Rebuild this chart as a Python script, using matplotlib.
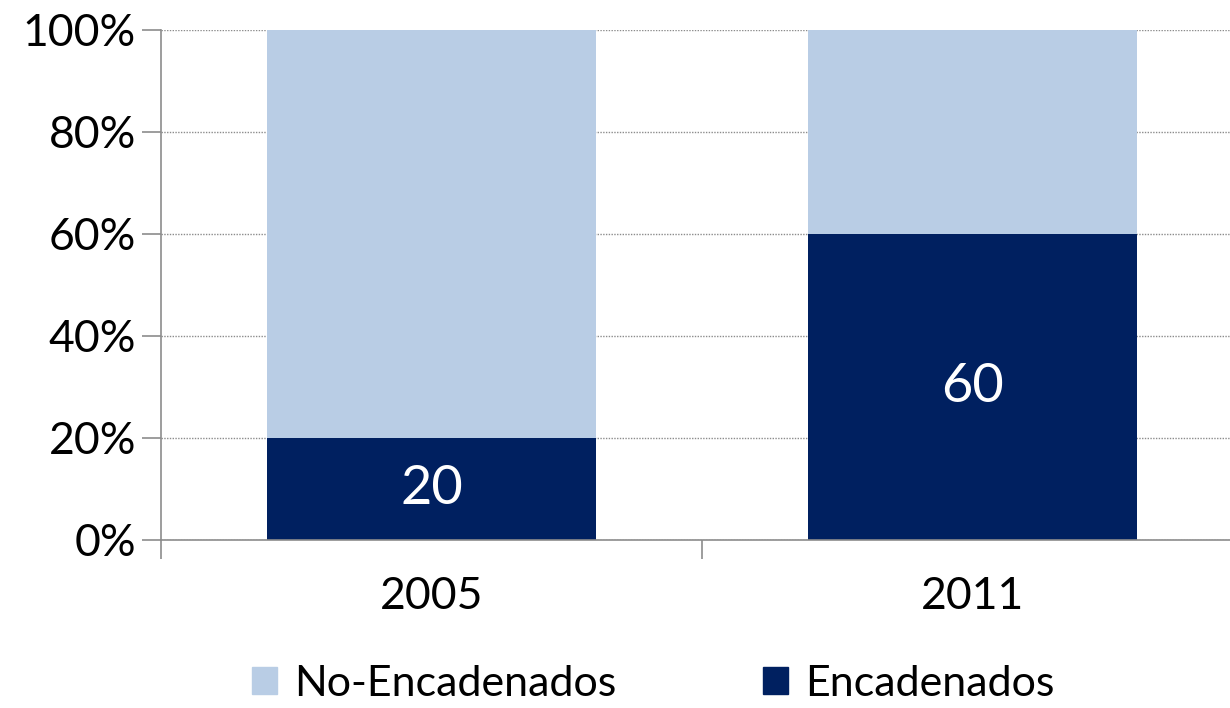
import matplotlib
matplotlib.use("Agg")
import matplotlib.pyplot as plt
from matplotlib.patches import Patch

# Datos
years = ["2005", "2011"]
encadenados = [20, 60]
no_encadenados = [80, 40]
yticks = [0, 20, 40, 60, 80, 100]

light = "#B9CDE5"
dark = "#002060"

plt.rcParams["font.family"] = ["Lato", "DejaVu Sans"]

fig = plt.figure(figsize=(12.3, 7.08), dpi=100)
ax = fig.add_axes([161 / 1230, 1 - 540 / 708, 1082 / 1230, 510 / 708])

x = range(len(years))
ax.bar(x, encadenados, width=0.608, color=dark, zorder=2)
ax.bar(x, no_encadenados, width=0.608, bottom=encadenados, color=light, zorder=2)

for i, v in enumerate(encadenados):
    ax.text(i, v / 2, str(v), color="white", ha="center", va="center",
            fontsize=39, zorder=3)

ax.set_xlim(-0.5, 1.5)
ax.set_ylim(0, 100)
ax.set_yticks(yticks)
ax.set_yticklabels([f"{t}%" for t in yticks], fontsize=32)
ax.yaxis.grid(True, color="#8c8c8c", linestyle=(0, (1, 1)), linewidth=1, zorder=0)

# ticks del eje x en los limites de categoria
ax.set_xticks([-0.5, 0.5, 1.5])
ax.set_xticklabels([])
ax.set_xticks(list(x), minor=True)
ax.set_xticklabels(years, minor=True, fontsize=32)
ax.tick_params(axis="x", which="major", length=14, width=1.2, color="#8c8c8c", direction="out")
ax.tick_params(axis="x", which="minor", length=0, pad=26)
ax.tick_params(axis="y", length=14, width=1.2, color="#8c8c8c", direction="out", pad=4)

for s in ["top", "right"]:
    ax.spines[s].set_visible(False)
for s in ["left", "bottom"]:
    ax.spines[s].set_color("#8c8c8c")
    ax.spines[s].set_linewidth(1.2)

handles = [Patch(color=light, label="No-Encadenados"), Patch(color=dark, label="Encadenados")]
fig.legend(handles=handles, loc="center", bbox_to_anchor=(653 / 1230, 1 - 684 / 708),
           ncol=2, frameon=False, fontsize=31, handlelength=0.58, handleheight=0.58,
           handletextpad=0.4, columnspacing=3.4, borderpad=0.1)

fig.savefig("out.png", dpi=100)
